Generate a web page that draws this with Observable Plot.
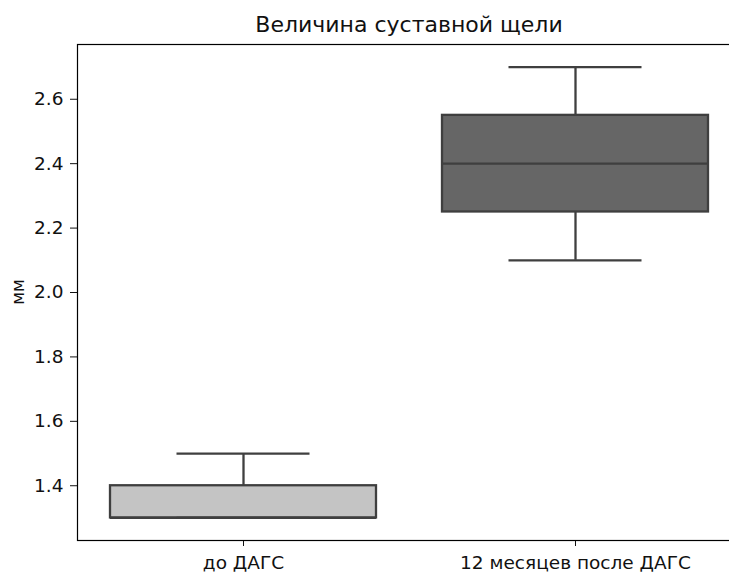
<!DOCTYPE html>
<html>
<head>
<meta charset="utf-8">
<script src="https://cdn.jsdelivr.net/npm/d3@7"></script>
<script src="https://cdn.jsdelivr.net/npm/@observablehq/plot@0.6"></script>
<style>
  html, body { margin: 0; padding: 0; background: #fff; overflow: hidden; }
  body { width: 729px; height: 574px; font-family: "DejaVu Sans", sans-serif; position: relative; }
  #title { height: 36px; width: 729px; position: relative; }
  #title span { position: absolute; left: 409px; top: 14px; transform: translateX(-50%); font-size: 22px; color: #111; white-space: nowrap; line-height: 1; }
  #ylabel { position: absolute; left: 18px; top: 292px; transform: translate(-50%, -50%) rotate(-90deg); font-size: 17px; color: #111; white-space: nowrap; line-height: 1; }
</style>
</head>
<body>
<div id="title"><span>Величина суставной щели</span></div>
<div id="chart"></div>
<div id="ylabel">мм</div>
<script>
const categories = ["до ДАГС", "12 месяцев после ДАГС"];
const whiskerLow = [1.3, 2.1];
const q1 = [1.3, 2.25];
const median = [1.3, 2.4];
const q3 = [1.4, 2.55];
const whiskerHigh = [1.5, 2.7];
const yTicks = [1.4, 1.6, 1.8, 2.0, 2.2, 2.4, 2.6];
const boxColors = ["#c4c4c4", "#666666"];

const data = categories.map((c, i) => ({
  cat: c, lo: whiskerLow[i], q1: q1[i], med: median[i], q3: q3[i], hi: whiskerHigh[i]
}));

const line = "#3f3f3f";
const lw = 2.3;
const boxInset = 33;
const capInset = 99.5;

const chart = Plot.plot({
  width: 729,
  height: 538,
  marginLeft: 77,
  marginRight: -12,
  marginTop: 8,
  marginBottom: 34,
  style: { fontFamily: "DejaVu Sans, sans-serif", fontSize: "18.5px", color: "#111", background: "#fff" },
  x: { domain: categories, padding: 0, label: null, tickSize: 6, tickPadding: 9 },
  y: { domain: [1.23, 2.77], ticks: yTicks, tickFormat: d3.format(".1f"), label: null, tickSize: 7, tickPadding: 7 },
  color: { domain: categories, range: boxColors },
  marks: [
    Plot.ruleX(data, { x: "cat", y1: "q3", y2: "hi", stroke: line, strokeWidth: lw }),
    Plot.ruleX(data, { x: "cat", y1: "lo", y2: "q1", stroke: line, strokeWidth: lw }),
    Plot.barY(data, { x: "cat", y1: "q1", y2: "q3", fill: "cat", stroke: line, strokeWidth: lw, insetLeft: boxInset, insetRight: boxInset }),
    Plot.tickY(data, { x: "cat", y: "med", stroke: line, strokeWidth: lw, insetLeft: boxInset, insetRight: boxInset }),
    Plot.tickY(data, { x: "cat", y: "hi", stroke: line, strokeWidth: lw, insetLeft: capInset, insetRight: capInset }),
    Plot.tickY(data, { x: "cat", y: "lo", stroke: line, strokeWidth: lw, insetLeft: capInset, insetRight: capInset }),
    Plot.frame({ stroke: "#000", strokeWidth: 1.2 })
  ]
});
document.getElementById("chart").appendChild(chart);
</script>
</body>
</html>
